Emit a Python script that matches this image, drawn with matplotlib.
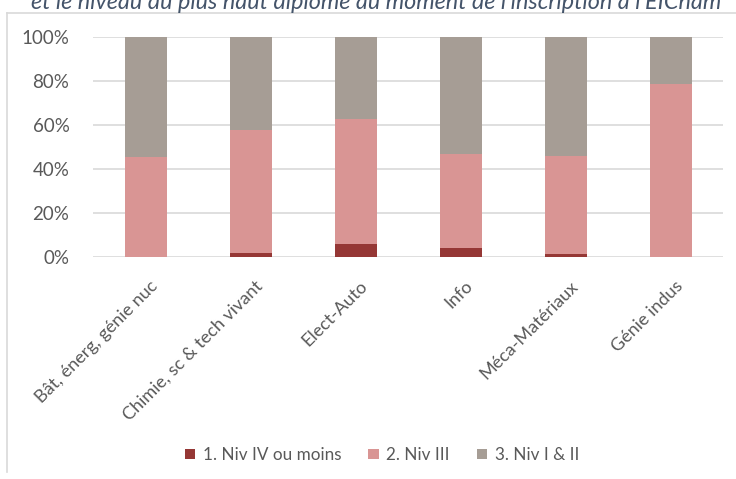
import matplotlib
matplotlib.use("Agg")
import matplotlib.pyplot as plt
from matplotlib.lines import Line2D
from matplotlib.patches import Patch
import matplotlib.transforms as mtransforms
import numpy as np

plt.rcParams['font.family'] = ['Lato', 'DejaVu Sans']

categories = ["Bât, énerg, génie nuc", "Chimie, sc & tech vivant", "Elect-Auto",
              "Info", "Méca-Matériaux", "Génie indus"]
niv_iv = [0.0, 1.8, 6.1, 4.1, 1.5, 0.0]
niv_iii = [45.3, 55.9, 56.5, 42.5, 44.6, 78.6]
niv_i_ii = [100 - a - b for a, b in zip(niv_iv, niv_iii)]
series_labels = ["1. Niv IV ou moins", "2. Niv III", "3. Niv I & II"]
y_ticks = [0, 20, 40, 60, 80, 100]
y_tick_labels = ["0%", "20%", "40%", "60%", "80%", "100%"]
title_text = "et le niveau du plus haut diplôme au moment de l'inscription à l'EICnam"

colors = ["#953735", "#D99594", "#A69D95"]
gray_text = "#595959"
grid_color = "#D9D9D9"

W, H = 736, 479
fig = plt.figure(figsize=(W / 100, H / 100), dpi=100)

# chart frame (left & top borders)
fig.add_artist(Line2D([7 / W, 7 / W], [1 - 13 / H, 1 - 472 / H], color=grid_color, lw=1.2,
                      transform=fig.transFigure))
fig.add_artist(Line2D([7 / W, 1.0], [1 - 13 / H, 1 - 13 / H], color=grid_color, lw=1.2,
                      transform=fig.transFigure))

left, right = 93 / W, 723 / W
bottom, top = 1 - 257 / H, 1 - 37 / H
ax = fig.add_axes([left, bottom, right - left, top - bottom])

x = np.arange(len(categories))
bw = 0.40
ax.bar(x, niv_iv, bw, color=colors[0], label=series_labels[0], zorder=3)
ax.bar(x, niv_iii, bw, bottom=niv_iv, color=colors[1], label=series_labels[1], zorder=3)
bot3 = [a + b for a, b in zip(niv_iv, niv_iii)]
ax.bar(x, niv_i_ii, bw, bottom=bot3, color=colors[2], label=series_labels[2], zorder=3)

ax.set_xlim(-0.5, len(categories) - 0.5)
ax.set_ylim(0, 100)
ax.set_yticks(y_ticks)
ax.set_yticklabels(y_tick_labels, color=gray_text, fontsize=13.5)
ax.yaxis.grid(True, color=grid_color, lw=1.2, zorder=0)
ax.set_axisbelow(True)
for s in ax.spines.values():
    s.set_visible(False)
ax.tick_params(axis='y', length=0, pad=17)
ax.tick_params(axis='x', length=0)

ax.set_xticks(x)
ax.set_xticklabels(categories, rotation=45, ha='right', va='top', rotation_mode='anchor',
                   color=gray_text, fontsize=13)
offset = mtransforms.ScaledTranslation(4 / 100, -16 / 100, fig.dpi_scale_trans)
for lab in ax.get_xticklabels():
    lab.set_transform(lab.get_transform() + offset)

# legend
handles = [Patch(facecolor=c) for c in colors]
fig.legend(handles, series_labels, loc='center', bbox_to_anchor=(382 / W, 1 - 455 / H),
           ncol=3, frameon=False, fontsize=12.3, labelcolor=gray_text,
           handlelength=0.6, handleheight=0.6, handletextpad=0.45, columnspacing=1.6)

# title (cut off at top)
t = fig.text(376 / W, 1 - 9 / H, title_text, ha='center', va='baseline',
             style='italic', color="#44546A", fontsize=14)
fig.canvas.draw()
r = fig.canvas.get_renderer()
w = t.get_window_extent(r).width
t.set_fontsize(14 * 693 / w)

fig.savefig("out.png", dpi=100, facecolor="white")
